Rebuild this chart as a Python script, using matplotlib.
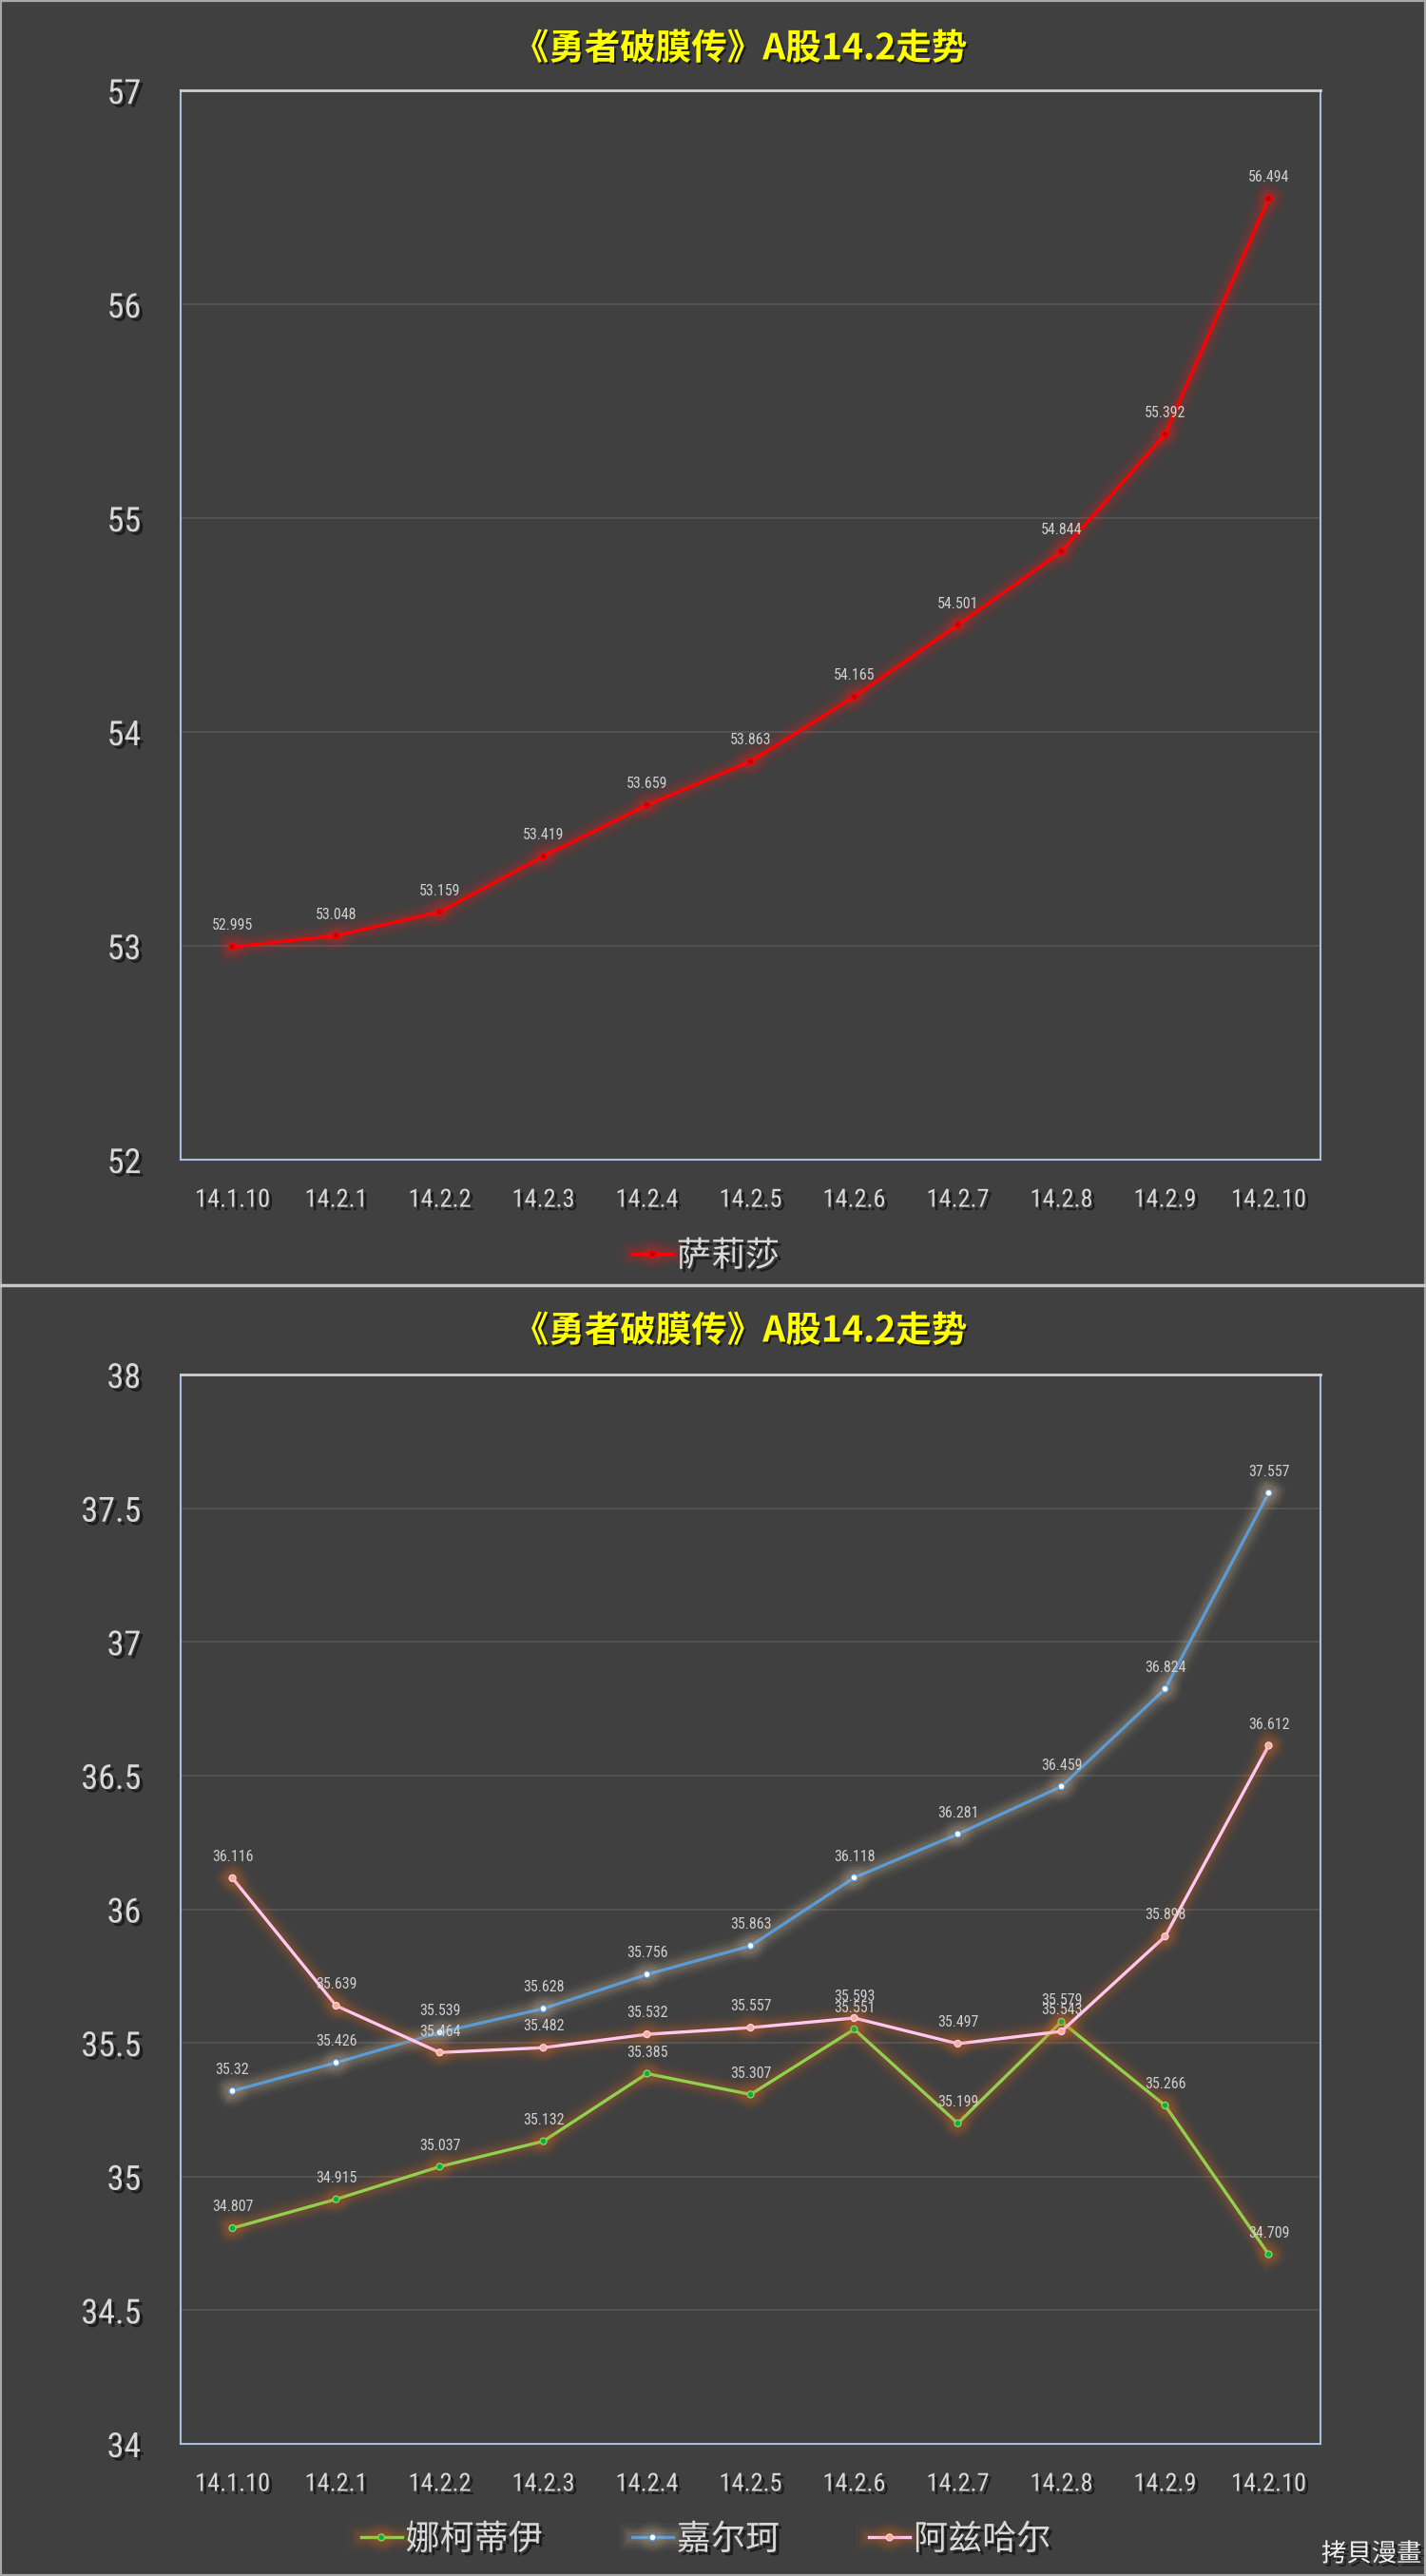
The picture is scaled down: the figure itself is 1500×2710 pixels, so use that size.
import numpy as np
import matplotlib
matplotlib.use("Agg")
import matplotlib.pyplot as plt
import matplotlib.patheffects as pe
from matplotlib import font_manager
from matplotlib.lines import Line2D
from matplotlib.patches import Rectangle

plt.rcParams['font.family'] = ['Noto Sans CJK SC', 'DejaVu Sans']

# --- data ---
dates = ["14.1.10", "14.2.1", "14.2.2", "14.2.3", "14.2.4", "14.2.5",
         "14.2.6", "14.2.7", "14.2.8", "14.2.9", "14.2.10"]
title = "《勇者破膜传》A股14.2走势"
salisha = [52.995, 53.048, 53.159, 53.419, 53.659, 53.863, 54.165, 54.501, 54.844, 55.392, 56.494]
nakediyi = [34.807, 34.915, 35.037, 35.132, 35.385, 35.307, 35.551, 35.199, 35.579, 35.266, 34.709]
jiaerke = [35.32, 35.426, 35.539, 35.628, 35.756, 35.863, 36.118, 36.281, 36.459, 36.824, 37.557]
azihaer = [36.116, 35.639, 35.464, 35.482, 35.532, 35.557, 35.593, 35.497, 35.543, 35.898, 36.612]

BG = "#404040"
TXT = "#d9d9d9"

_names = {f.name for f in font_manager.fontManager.ttflist}
NUM = next((n for n in ["Liberation Sans Narrow", "Roboto Condensed", "Roboto"] if n in _names), "DejaVu Sans")
NUMFAM = [NUM, 'Noto Sans CJK SC', 'DejaVu Sans']

shadow = [pe.withSimplePatchShadow(offset=(2.5, -2.5), shadow_rgbFace="black", alpha=0.55)]


def glow(color, lw=2.4):
    # soft halo around the line, like Excel's "glow" effect
    return [pe.Stroke(linewidth=lw + 18, foreground=color, alpha=0.035),
            pe.Stroke(linewidth=lw + 13, foreground=color, alpha=0.05),
            pe.Stroke(linewidth=lw + 9, foreground=color, alpha=0.07),
            pe.Stroke(linewidth=lw + 5, foreground=color, alpha=0.09),
            pe.Normal()]


def style_axes(ax, lo, hi, step):
    ax.set_facecolor(BG)
    ax.set_xlim(-0.5, len(dates) - 0.5)
    ax.set_ylim(lo, hi)
    ticks = np.arange(lo, hi + step / 2, step)
    ax.set_yticks(ticks)
    ax.set_yticklabels([f"{t:g}" for t in ticks], family=NUMFAM, fontsize=26, color=TXT)
    ax.set_xticks(range(len(dates)))
    ax.set_xticklabels(dates, family=NUMFAM, fontsize=19, color=TXT)
    ax.tick_params(axis='x', length=0, pad=22)
    ax.tick_params(axis='y', length=0, pad=30)
    for lab in ax.get_xticklabels() + ax.get_yticklabels():
        lab.set_path_effects(shadow)
    ax.grid(axis='y', color='#575757', lw=1.2)
    ax.set_axisbelow(True)
    ax.spines['top'].set_color('#d0d0d0')
    ax.spines['top'].set_linewidth(2)
    for s in ['left', 'right', 'bottom']:
        ax.spines[s].set_color('#a8c0e0')
        ax.spines[s].set_linewidth(1.5)


def series(ax, vals, line_c, face_c, glow_c, label):
    x = np.arange(len(dates))
    ln, = ax.plot(x, vals, color=line_c, lw=2.4, marker='o', ms=5, mfc=face_c,
                  mec=line_c, mew=1, label=label, path_effects=glow(glow_c), zorder=3)
    for xi, v in zip(x, vals):
        ax.annotate(f"{v:g}", (xi, v), xytext=(0, 16), textcoords='offset points',
                    ha='center', va='center', fontsize=11.5, color='#cfcfcf',
                    family=NUMFAM, zorder=5)
    return ln


fig = plt.figure(figsize=(15, 27.1), dpi=100, facecolor=BG)

# top panel
ax1 = fig.add_axes([0.1267, 0.5498, 0.7993, 0.4151])
style_axes(ax1, 52, 57, 1)
h1 = series(ax1, salisha, '#ff0000', '#c00000', '#ff2020', "萨莉莎")

# bottom panel
ax2 = fig.add_axes([0.1267, 0.0513, 0.7993, 0.4151])
style_axes(ax2, 34, 38, 0.5)
h2 = series(ax2, nakediyi, '#92d050', '#00b050', '#f07020', "娜柯蒂伊")
h3 = series(ax2, jiaerke, '#5b9bd5', '#ffffff', '#f0d0b0', "嘉尔珂")
h4 = series(ax2, azihaer, '#ffc8f0', '#f4b183', '#f07020', "阿兹哈尔")

for y in (0.9812, 0.4834):
    fig.text(0.519, y, title, ha='center', va='center', color='#ffff00',
             fontsize=27, fontweight='bold',
             path_effects=[pe.withSimplePatchShadow(offset=(1.5, -1.5), shadow_rgbFace='black', alpha=0.6)])

leg1 = fig.legend([h1], ["萨莉莎"], loc='center', bbox_to_anchor=(0.495, 0.5122),
                  frameon=False, fontsize=26, labelcolor=TXT, handlelength=1.2,
                  handletextpad=0.1)
leg2 = fig.legend([h2, h3, h4], ["娜柯蒂伊", "嘉尔珂", "阿兹哈尔"], loc='center',
                  bbox_to_anchor=(0.495, 0.0140), ncol=3, frameon=False, fontsize=26,
                  labelcolor=TXT, handlelength=1.2, handletextpad=0.1, columnspacing=2.6)
for leg in (leg1, leg2):
    for t in leg.get_texts():
        t.set_path_effects(shadow)

fig.text(0.997, 0.0085, "拷貝漫畫", ha='right', va='center', color='#f0f0f0',
         fontsize=19, family=['Noto Sans CJK TC', 'DejaVu Sans'], path_effects=shadow)

# panel frames
fig.add_artist(Line2D([0, 1], [0.5011, 0.5011], color='#c8c8c8', lw=2.5))
fig.add_artist(Rectangle((0, 0), 1, 1, transform=fig.transFigure, fill=False,
                         edgecolor='#a8a8a8', lw=3))

fig.savefig("out.png", dpi=100, facecolor=BG)
